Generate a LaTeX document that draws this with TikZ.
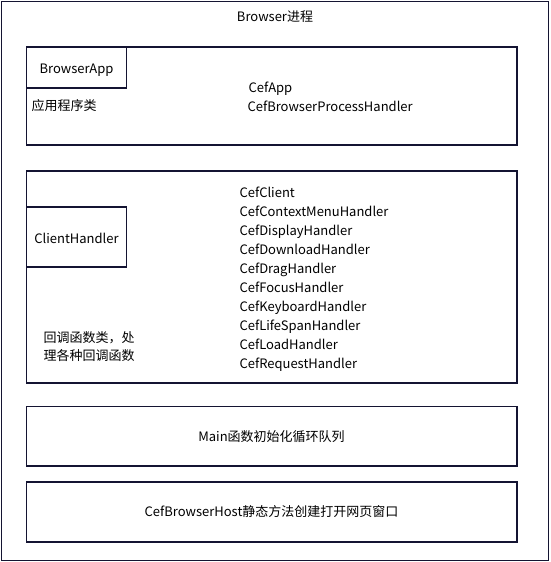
\documentclass[tikz,border=0pt]{standalone}
\usepackage{fontspec}
\setmainfont{Noto Sans CJK SC}
\usepackage{tikz}

\definecolor{edge}{RGB}{20,20,50}

\begin{document}
\begin{tikzpicture}[x=1pt,y=-1pt,font=\fontsize{13}{15}\selectfont,
  frame/.style={draw=edge,line width=1.1pt}]
\useasboundingbox (0,0) rectangle (550,562);
\draw[frame] (1.5,1.5) rectangle (548.5,560.5); \node (title) at (275,17) {Browser进程};

% application part
\draw[frame] (26.5,47) rectangle (517,145);
\draw[frame] (26.5,47) rectangle (126.5,88); \node (app) at (76.5,70) {BrowserApp};
\node[anchor=west] (appnote) at (28,106) {应用程序类};
\node[anchor=base west] (cefapp) at (245,92.5) {CefApp};
\node[anchor=base west] (cefbph) at (244,111.5) {CefBrowserProcessHandler};

% client part
\draw[frame] (26.5,171) rectangle (517,383);
\draw[frame] (26.5,207) rectangle (126.5,267); \node (client) at (76.5,238) {ClientHandler};
\node[anchor=west,align=left,font=\fontsize{13}{18}\selectfont] (clientnote) at (40,347) {回调函数类，处\\理各种回调函数};

\foreach \name [count=\i] in {CefClient,CefContextMenuHandler,CefDisplayHandler,CefDownloadHandler,CefDragHandler,CefFocusHandler,CefKeyboardHandler,CefLifeSpanHandler,CefLoadHandler,CefRequestHandler} {
\node[anchor=base west] (h\i) at (236, 178.5+19*\i) {\name};
}

% bottom rows
\draw[frame] (26.5,406.5) rectangle (517,466); \node (mainloop) at (271.5,437) {Main函数初始化循环队列};
\draw[frame] (26.5,482) rectangle (517,542); \node (host) at (271.5,512) {CefBrowserHost静态方法创建打开网页窗口};
\end{tikzpicture}
\end{document}
